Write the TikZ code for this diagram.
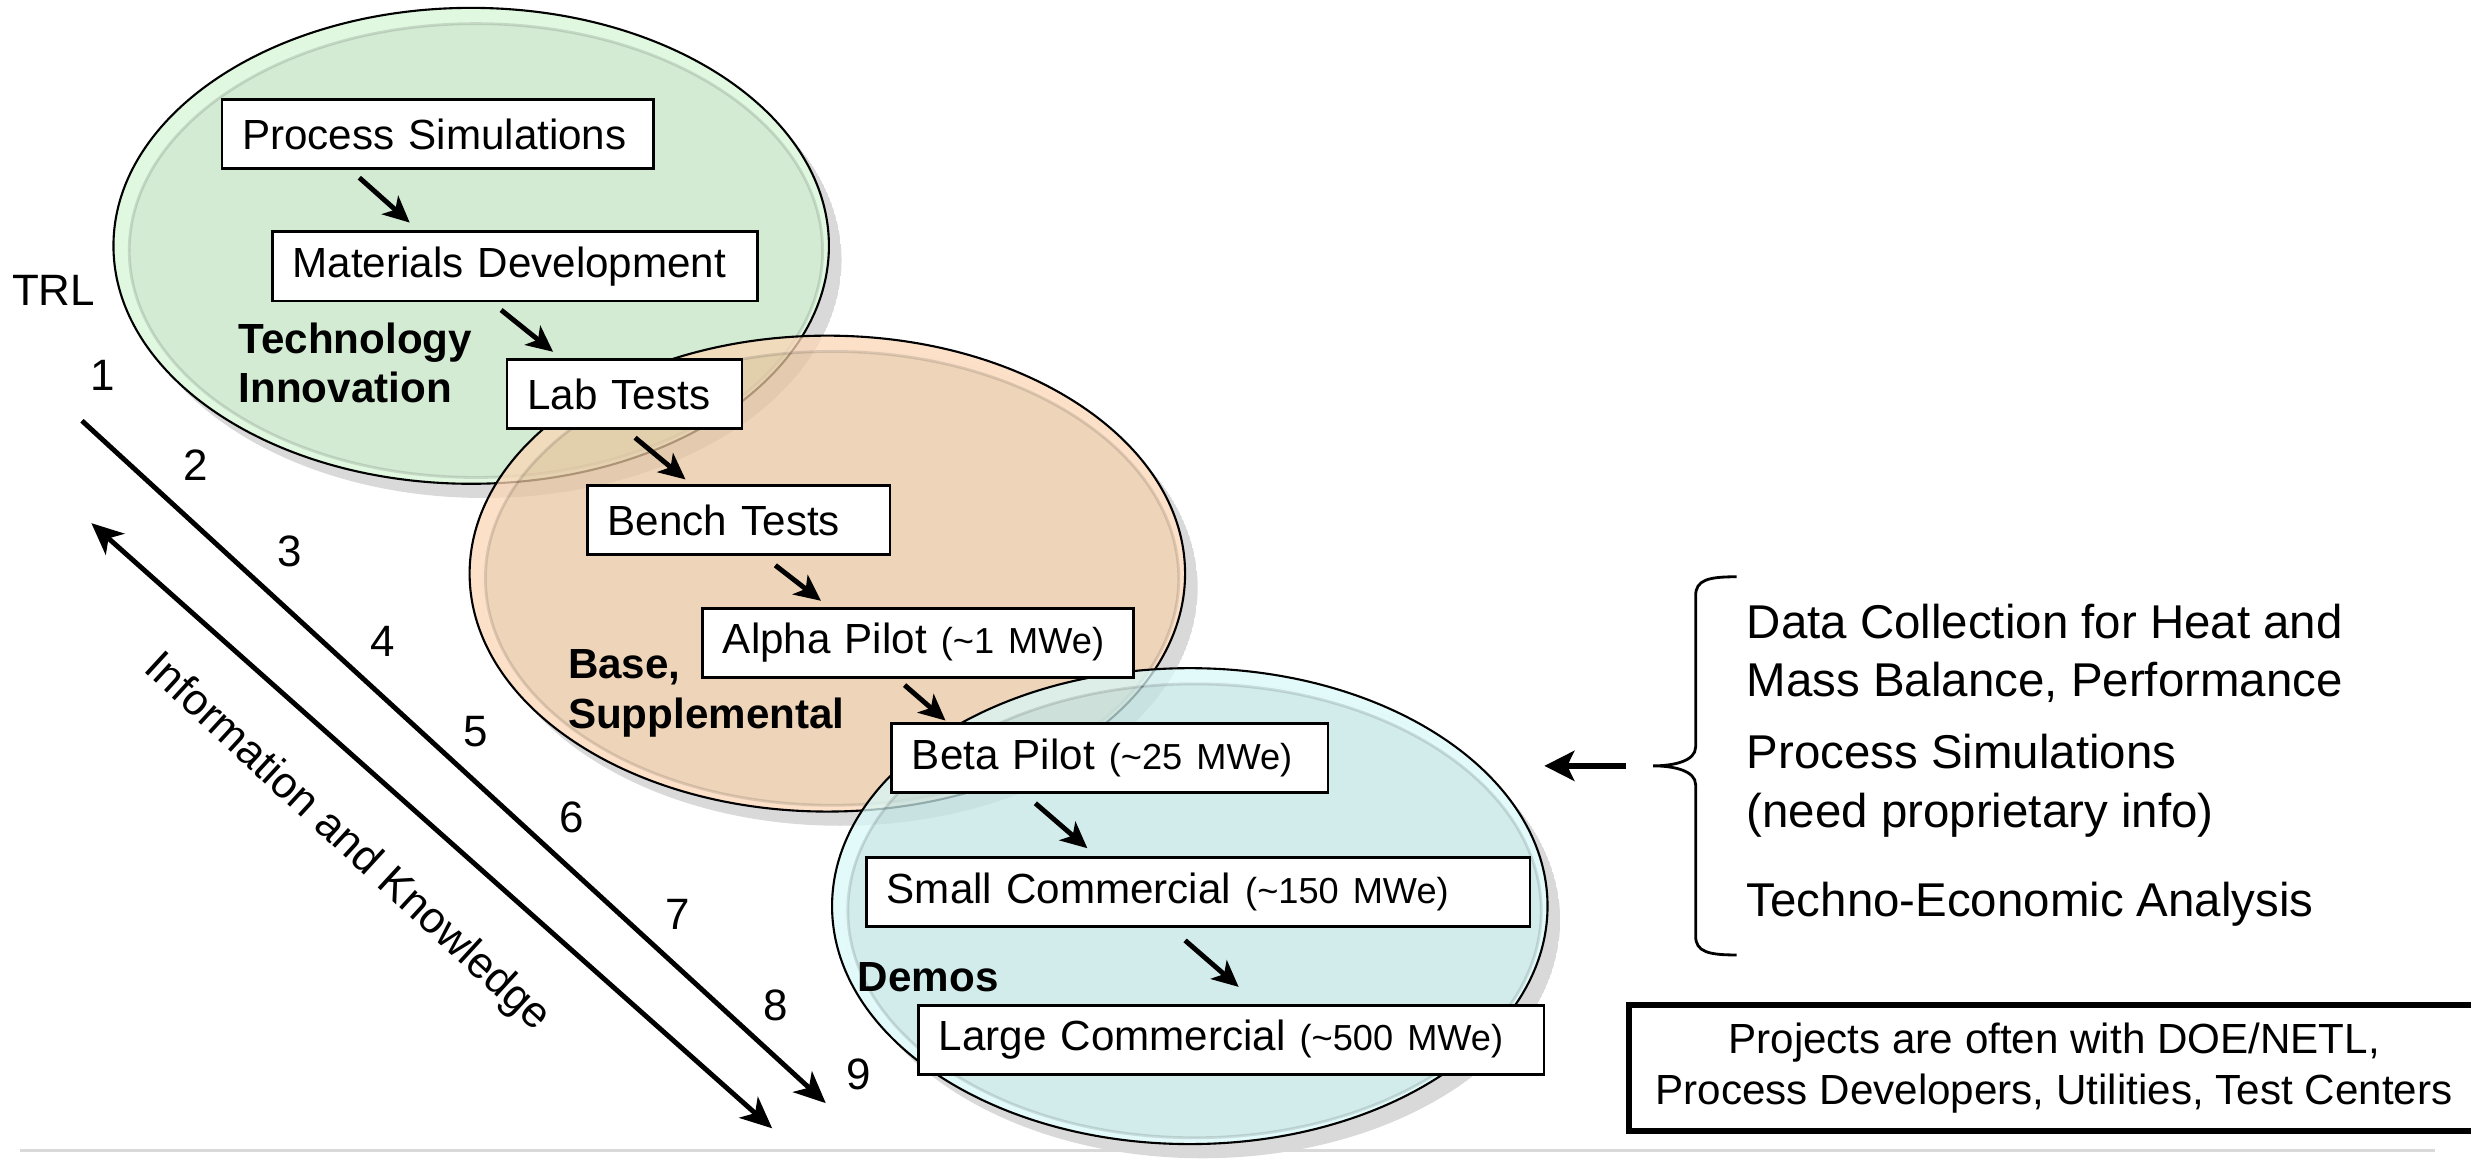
\documentclass[tikz,border=0pt]{standalone}
\usepackage{fontspec}
\setmainfont{Liberation Sans}
\usetikzlibrary{arrows.meta,calc}

\definecolor{shadowgray}{HTML}{D9D9D9}
\definecolor{greenrim}{HTML}{E0F8E0}
\definecolor{greenfill}{HTML}{D3EBD3}
\definecolor{orangerim}{RGB}{251,214,182}
\definecolor{orangefill}{RGB}{232,198,160}
\definecolor{bluerim}{RGB}{216,248,248}
\definecolor{bluefill}{RGB}{195,230,230}
\definecolor{footgray}{HTML}{D9D9D9}

% one stage bubble: #1,#2 centre, #3 rim colour, #4 inner colour, #5 fill opacity
\newcommand\stageblob[5]{%
  \begin{scope}
    \clip (#1+8,#2+9) ellipse [x radius=227, y radius=151];
    \fill[shadowgray, even odd rule]
      (#1+8,#2+9) ellipse [x radius=227, y radius=151]
      (#1,#2) ellipse [x radius=227, y radius=151];
  \end{scope}
  \begin{scope}
    \clip (#1,#2) ellipse [x radius=227, y radius=151];
    \fill[#3, fill opacity=#5, even odd rule]
      (#1,#2) ellipse [x radius=227, y radius=151]
      (#1+3,#2+3) ellipse [x radius=220, y radius=144];
    \fill[#4, fill opacity=#5] (#1+3,#2+3) ellipse [x radius=220, y radius=144];
    \draw[black, draw opacity=0.12, line width=0.8pt]
      (#1+3,#2+3) ellipse [x radius=220, y radius=144];
  \end{scope}
  \draw[black, line width=0.6pt] (#1,#2) ellipse [x radius=227, y radius=151];
}

\newcommand\mwe[1]{{\fontsize{10.3}{12}\selectfont(\textasciitilde{}#1 MWe)}}

\begin{document}
\begin{tikzpicture}[
  x=0.01576cm, y=-0.01576cm,
  stagebox/.style={draw, line width=0.7pt, fill=white, anchor=west, align=left,
    inner xsep=5.8pt, inner ysep=0pt, minimum height=19.7pt,
    font=\fontsize{12}{14}\selectfont},
  phase/.style={anchor=west, align=left, inner sep=0pt,
    font=\bfseries\fontsize{12}{14}\selectfont},
  lvl/.style={font=\fontsize{12.5}{15}\selectfont},
  note/.style={anchor=west, align=left, inner sep=0pt,
    font=\fontsize{13.5}{16.6}\selectfont},
  flow/.style={line width=1.4pt, -{Stealth[length=7.5pt, width=7pt, inset=2pt]}},
  trl/.style={line width=1.4pt, -{Stealth[length=9pt, width=8pt, inset=2.5pt]}},
  trlboth/.style={line width=1.4pt, {Stealth[length=9pt, width=8pt, inset=2.5pt]}-{Stealth[length=9pt, width=8pt, inset=2.5pt]}},
  feed/.style={line width=1.9pt, -{Stealth[length=8.5pt, width=8.5pt, inset=2pt]}}
]
\useasboundingbox (0,0) rectangle (1568,735);

% stage bubbles
\stageblob{299}{156}{greenrim}{greenfill}{1}
\stageblob{525}{364}{orangerim}{orangefill}{0.75}
\stageblob{755}{575}{bluerim}{bluefill}{0.75}

% phase labels
\node[phase] (ti) at (151,230.5) {Technology\\Innovation};
\node[phase] (bs) at (360,440) {Base,\\Supplemental};
\node[phase] (dm) at (544,620) {Demos};

% development steps
\node[stagebox, text width=111.2pt] (ps) at (140,85) {Process Simulations};
\node[stagebox, text width=126.5pt] (md) at (172,169) {Materials Development};
\node[stagebox, text width=55.2pt] (lab) at (321,250) {Lab Tests};
\node[stagebox, text width=74.5pt] (bench) at (372,330) {Bench Tests};
\node[stagebox, text width=111pt] (alpha) at (445,408) {Alpha Pilot \mwe{1}};
\node[stagebox, text width=112.6pt] (beta) at (565,481) {Beta Pilot \mwe{25}};
\node[stagebox, text width=177.2pt] (small) at (549,566) {Small Commercial \mwe{150}};
\node[stagebox, text width=166.4pt] (large) at (582,660) {Large Commercial \mwe{500}};

\draw[flow] ([shift={(88,5)}]ps.south west) -- ([shift={(88,-5)}]md.north west);
\draw[flow] ([shift={(146,5)}]md.south west) -- ([shift={(30,-4)}]lab.north west);
\draw[flow] ([shift={(82,5)}]lab.south west) -- ([shift={(63,-3)}]bench.north west);
\draw[flow] ([shift={(120,6)}]bench.south west) -- ([shift={(76,-4)}]alpha.north west);
\draw[flow] ([shift={(129,4)}]alpha.south west) -- ([shift={(35,-1)}]beta.north west);
\draw[flow] ([shift={(92,6)}]beta.south west) -- ([shift={(141,-5)}]small.north west);
\draw[flow] ([shift={(203,8)}]small.south west) -- ([shift={(204,-11)}]large.north west);

% TRL scale
\node[lvl] (trl) at (34,184) {TRL};
\node[lvl] (l1) at (65,238) {1};
\node[lvl] (l2) at (124,295) {2};
\node[lvl] (l3) at (184,350) {3};
\node[lvl] (l4) at (243,407) {4};
\node[lvl] (l5) at (302,464) {5};
\node[lvl] (l6) at (363,519) {6};
\node[lvl] (l7) at (430,580) {7};
\node[lvl] (l8) at (492,638) {8};
\node[lvl] (l9) at (545,682) {9};

\coordinate (trlA) at (52,267);
\coordinate (trlB) at (524,700);
\coordinate (ikA) at (58,332);
\coordinate (ikB) at (490,716);
\draw[trl] (trlA) -- (trlB);
\draw[trlboth] (ikA) -- (ikB);
\node[lvl, rotate=-42.6] (ik) at (220,535) {Information and Knowledge};

% supporting activities
\draw[line width=0.8pt]
  (1102,366) .. controls (1084,366) and (1076,368) .. (1076,378)
  -- (1076,474) .. controls (1076,483) and (1062,486) .. (1049,486)
  .. controls (1062,486) and (1076,489) .. (1076,498)
  -- (1076,594) .. controls (1076,604) and (1084,606) .. (1102,606);
\coordinate (feedA) at (1032,486);
\coordinate (feedB) at (980,486);
\draw[feed] (feedA) -- (feedB);

\node[note] (n1) at (1108,414.5) {Data Collection for Heat and\\Mass Balance, Performance};
\node[note] (n2) at (1108,498.5) {Process Simulations\\(need proprietary info)};
\node[note] (n3) at (1108,574) {Techno-Economic Analysis};

\node[draw, line width=1.5pt, anchor=north west, minimum width=242pt,
  minimum height=35.9pt, align=center, inner sep=0pt,
  font=\fontsize{12}{14.4}\selectfont] (partners) at (1032,636)
  {Projects are often with DOE/NETL,\\Process Developers, Utilities, Test Centers};

% rule along the foot
\draw[footgray, line width=0.8pt] (13,730) -- (1545,730);
\end{tikzpicture}
\end{document}
